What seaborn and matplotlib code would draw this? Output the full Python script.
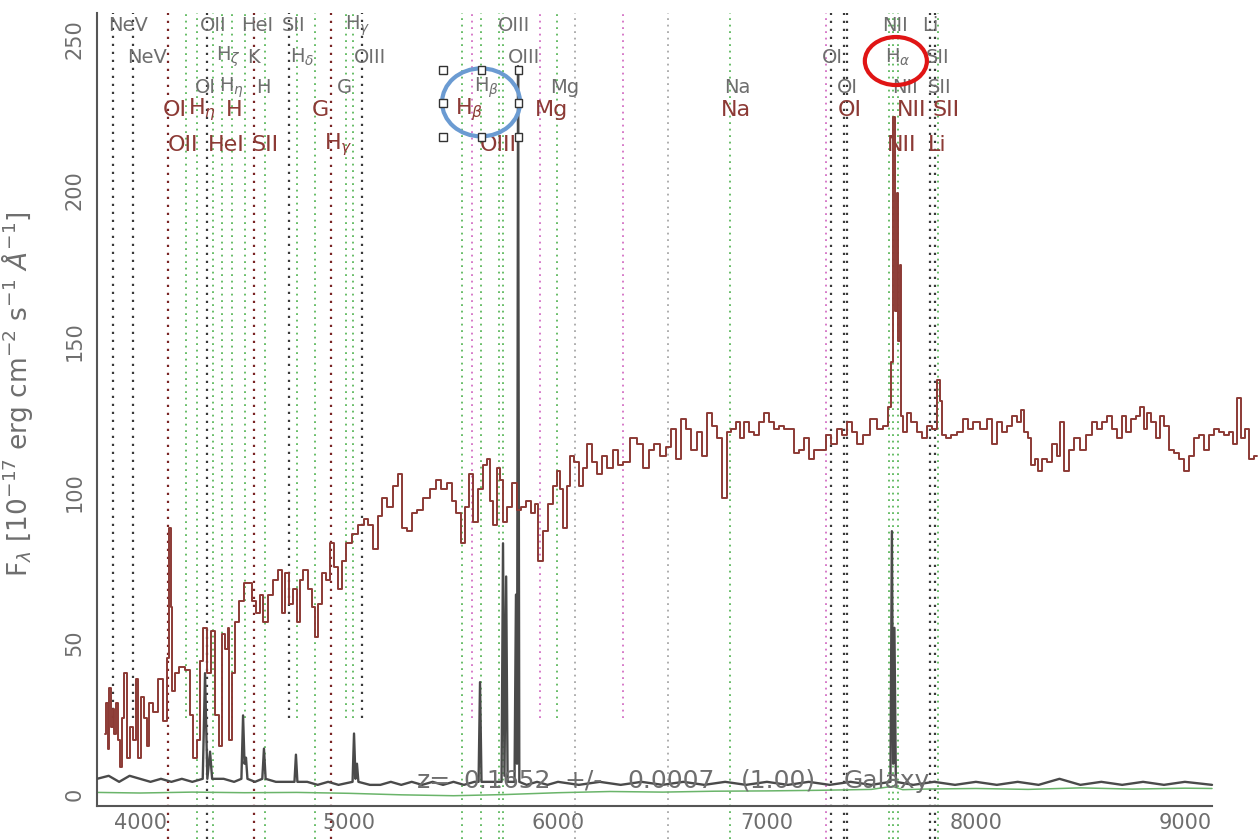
import matplotlib
matplotlib.use("Agg")
import matplotlib.pyplot as plt
from matplotlib.patches import Ellipse, Rectangle
from matplotlib.ticker import FixedLocator
import pandas as pd
import seaborn as sns

spec_wave = [3833, 3841, 3849, 3857, 3865, 3873, 3881, 3889, 3897, 3909,
             3920, 3928, 3944, 3960, 3976, 3984, 3992, 4016, 4024, 4040,
             4048, 4072, 4096, 4120, 4136, 4144, 4150, 4160, 4176, 4200,
             4232, 4247, 4263, 4279, 4295, 4311, 4327, 4351, 4367, 4388,
             4399, 4415, 4423, 4431, 4447, 4463, 4487, 4510, 4526, 4542,
             4566, 4582, 4598, 4622, 4646, 4670, 4686, 4702, 4726, 4742,
             4758, 4774, 4790, 4814, 4830, 4845, 4861, 4877, 4901, 4920,
             4936, 4957, 4973, 4997, 5029, 5061, 5085, 5101, 5129, 5149,
             5164, 5196, 5228, 5244, 5260, 5292, 5308, 5340, 5372, 5404,
             5427, 5451, 5483, 5499, 5523, 5547, 5563, 5587, 5603, 5627,
             5651, 5667, 5683, 5699, 5715, 5730, 5746, 5770, 5794, 5810,
             5834, 5858, 5882, 5898, 5914, 5938, 5962, 5986, 6002, 6018,
             6034, 6049, 6065, 6089, 6113, 6129, 6153, 6177, 6201, 6225,
             6249, 6273, 6297, 6329, 6361, 6392, 6424, 6448, 6472, 6504,
             6528, 6552, 6576, 6600, 6624, 6648, 6679, 6703, 6727, 6751,
             6775, 6799, 6815, 6839, 6863, 6879, 6903, 6927, 6951, 6975,
             6999, 7023, 7046, 7070, 7094, 7118, 7142, 7166, 7190, 7214,
             7238, 7270, 7294, 7318, 7350, 7373, 7397, 7421, 7445, 7477,
             7509, 7541, 7573, 7589, 7601, 7610, 7617, 7624, 7631, 7638,
             7645, 7660, 7676, 7700, 7732, 7756, 7780, 7804, 7820, 7836,
             7844, 7868, 7892, 7924, 7948, 7972, 8003, 8035, 8067, 8091,
             8115, 8139, 8163, 8187, 8211, 8223, 8242, 8258, 8274, 8290,
             8306, 8330, 8354, 8378, 8394, 8410, 8434, 8458, 8482, 8514,
             8538, 8569, 8593, 8617, 8641, 8665, 8689, 8705, 8729, 8753,
             8777, 8797, 8809, 8825, 8849, 8872, 8893, 8912, 8936, 8960,
             8984, 9008, 9032, 9056, 9080, 9104, 9128, 9152, 9176, 9199,
             9223, 9239, 9260, 9279, 9295, 9319, 9343]
spec_flux = [20, 30, 15, 35, 22, 28, 20, 30, 18, 9,
             25, 40, 12, 22, 18, 38, 12, 32, 25, 16,
             30, 27, 38, 24, 45, 88, 62, 34, 40, 42,
             41, 26, 12, 18, 44, 55, 40, 54, 26, 16,
             53, 48, 55, 18, 40, 57, 64, 70, 70, 64,
             60, 66, 57, 66, 71, 74, 60, 73, 63, 68,
             57, 71, 74, 68, 62, 52, 63, 73, 71, 83,
             75, 68, 77, 83, 86, 89, 91, 89, 81, 92,
             98, 95, 102, 106, 88, 87, 93, 94, 98, 101,
             104, 101, 103, 97, 93, 83, 95, 106, 90, 101,
             109, 111, 97, 89, 108, 104, 90, 95, 103, 94,
             95, 97, 93, 96, 77, 87, 96, 102, 107, 101,
             88, 102, 112, 110, 102, 108, 116, 110, 106, 112,
             108, 114, 109, 110, 118, 116, 108, 114, 116, 112,
             115, 121, 111, 124, 121, 114, 120, 112, 126, 122,
             118, 98, 120, 121, 123, 118, 123, 120, 119, 123,
             126, 123, 121, 122, 121, 121, 113, 114, 118, 111,
             114, 114, 119, 116, 121, 119, 123, 120, 116, 119,
             124, 121, 122, 128, 143, 224, 160, 199, 150, 175,
             125, 120, 126, 123, 120, 118, 122, 121, 137, 130,
             119, 118, 119, 120, 124, 121, 123, 121, 124, 116,
             123, 120, 122, 125, 123, 127, 120, 118, 109, 111,
             107, 111, 110, 116, 112, 123, 107, 114, 118, 114,
             119, 123, 121, 123, 125, 121, 118, 125, 120, 124,
             125, 128, 121, 126, 123, 118, 125, 122, 114, 113,
             111, 107, 112, 118, 119, 114, 119, 121, 120, 119,
             120, 116, 131, 118, 121, 111, 112]

# emission-line model (dark grey)
model_wave = [3794, 3850, 3900, 3950, 4000, 4050, 4100, 4150, 4200, 4250,
              4300, 4311, 4322, 4335, 4345,
              4400, 4450, 4485, 4493, 4500, 4507, 4514,
              4550, 4585, 4593, 4601,
              4650, 4700, 4739, 4746, 4753,
              4800, 4850, 4900, 4950,
              5017, 5024, 5031, 5038, 5045,
              5100, 5150, 5200, 5250, 5300, 5350, 5400, 5450, 5500, 5550, 5600,
              5620, 5627, 5634,
              5700,
              5730, 5737, 5744, 5752, 5759,
              5792, 5799, 5804, 5809, 5815,
              5850, 5900, 5950, 6000,
              6100, 6200, 6300, 6400, 6500, 6600, 6700, 6800, 6900, 7000,
              7100, 7200, 7300, 7400, 7500,
              7591, 7598, 7604, 7610, 7617,
              7700, 7800, 7900, 8000, 8100, 8200, 8300, 8400, 8500, 8600,
              8700, 8800, 8900, 9000,
              9130]
model_flux = [5, 6, 4, 6, 5, 4, 5, 4, 5, 4,
              5, 40, 5, 14, 5,
              5, 4, 5, 26, 10, 12, 5,
              4, 5, 15, 5,
              4, 4, 4, 13, 4,
              4, 3, 4, 3,
              4, 20, 5, 10, 4,
              3, 3, 4, 3, 4, 3, 4, 3, 4, 3, 4,
              4, 37, 4,
              4,
              4, 83, 6, 72, 4,
              4, 66, 10, 241, 4,
              3, 4, 3, 4,
              3, 4, 3, 4, 3, 4, 3, 4, 3, 4,
              3, 4, 3, 4, 3,
              4, 87, 10, 55, 4,
              3, 4, 3, 4, 3, 4, 3, 5, 3, 4,
              3, 4, 3, 4,
              3]

# sky / error curve (green)
sky_wave = [3794, 4000, 4250, 4500, 4750, 5000, 5250, 5500, 5750, 6000,
            6250, 6500, 6750, 7000, 7250, 7500, 7600, 7650, 7750, 8000,
            8250, 8500, 8750, 9000, 9130]
sky_flux = [0.5, 0.3, 0.6, 0.4, 0.5, 0.2, -0.3, -0.6, -0.2, 0.4,
            0.8, 0.6, 0.9, 1.0, 1.2, 1.5, 2.5, 1.4, 1.6, 1.8,
            1.5, 2.0, 1.6, 1.9, 1.8]

# dotted line markers: wavelength, colour group, lower end (flux units)
line_wave = [3871, 3967, 4134, 4220, 4273, 4321, 4349, 4392, 4440, 4502,
             4545, 4598, 4713, 4751, 4837, 4914, 4986, 5019, 5062, 5541,
             5589, 5632, 5718, 5737, 5914, 5995, 6081, 6311, 6526, 6823,
             7283, 7306, 7369, 7383, 7584, 7603, 7627, 7780, 7804, 7819]
line_kind = ["k", "k", "r", "g", "g", "k", "g", "g", "g", "g",
             "r", "g", "k", "g", "g", "r", "g", "g", "k", "g",
             "m", "g", "g", "g", "m", "g", "e", "m", "e", "g",
             "m", "k", "k", "k", "g", "g", "g", "k", "k", "g"]
line_low = [25, 25, -15, 25, -15, -15, -15, 25, 25, 25,
            -15, -15, 25, 25, -15, -15, 25, 25, 25, -15,
            25, -15, -15, -15, 25, 25, -15, 25, -15, -15,
            -15, -15, -15, -15, -15, -15, -15, -15, -15, -15]

# line identifications: grey set (rows 1-3) and red set (rows 4-5)
grey_text = ["NeV", "OII", "HeI", "SII", r"H$_\gamma$", "OIII", "NII", "Li",
             "NeV", r"H$_\zeta$", "K", r"H$_\delta$", "OIII", "OIII", "OI", r"H$_\alpha$", "SII",
             "OI", r"H$_\eta$", "H", "G", r"H$_\beta$", "Mg", "Na", "OI", "NII", "SII"]
grey_wave = [3943, 4349, 4560, 4737, 5043, 5790, 7613, 7780,
             4033, 4421, 4541, 4775, 5101, 5837, 7311, 7627, 7818,
             4311, 4440, 4589, 4976, 5656, 6034, 6857, 7383, 7660, 7828]
grey_row = [1, 1, 1, 1, 1, 1, 1, 1,
            2, 2, 2, 2, 2, 2, 2, 2, 2,
            3, 3, 3, 3, 3, 3, 3, 3, 3, 3]
red_text = ["OI", r"H$_\eta$", "H", "G", r"H$_\beta$", "Mg", "Na", "OI", "NII", "SII",
            "OII", "HeI", "SII", r"H$_\gamma$", "OIII", "NII", "Li"]
red_wave = [4167, 4297, 4450, 4861, 5574, 5971, 6852, 7397, 7694, 7857,
            4206, 4412, 4598, 4947, 5713, 7646, 7814]
red_row = [4, 4, 4, 4, 4, 4, 4, 4, 4, 4,
           5, 5, 5, 5, 5, 5, 5]
row_level = {1: 254.5, 2: 244, 3: 234, 4: 226.5, 5: 215}

# redshift caption, split into its words
z_words = ["z=", "0.1652", "+/-", "0.0007", "(1.00)", "Galaxy"]
z_word_wave = [5325, 5546, 6029, 6330, 6876, 7369]

kind_color = {"k": "#3a3a3a", "r": "#7a2525", "g": "#5cb85c", "m": "#d36fc4", "e": "#a8a8a8"}
red_col = "#8c3a35"
grey_col = "#6e6e6e"

sns.set_style("white")
plt.rcParams["font.family"] = ["DejaVu Sans"]
plt.rcParams["mathtext.fontset"] = "dejavusans"

fig = plt.figure(figsize=(12.58, 8.4), dpi=100)
ax = fig.add_axes([97 / 1258, 34 / 840, 1161 / 1258, 793 / 840])
x_lo, x_hi, x_end = 3794, 9350, 9130
y_lo, y_hi = -4, 258.6

# vertical dotted markers
lines = pd.DataFrame({"wave": line_wave, "kind": line_kind, "low": line_low})
for kind, grp in lines.groupby("kind"):
    lw = 1.6 if kind in ("k", "r") else 1.3
    ax.vlines(grp["wave"], grp["low"], y_hi, colors=kind_color[kind],
              linestyles=(0, (1, 2.6)), linewidth=lw, clip_on=False, zorder=1)

sky = pd.DataFrame({"wave": sky_wave, "flux": sky_flux})
model = pd.DataFrame({"wave": model_wave, "flux": model_flux})
spec = pd.DataFrame({"wave": spec_wave, "flux": spec_flux})
sns.lineplot(data=sky, x="wave", y="flux", color="#6ab46a", linewidth=1.1,
             estimator=None, sort=False, ax=ax, zorder=2)
sns.lineplot(data=model, x="wave", y="flux", color="#4a4a4a", linewidth=1.7,
             estimator=None, sort=False, ax=ax, zorder=3)
sns.lineplot(data=spec, x="wave", y="flux", color=red_col, linewidth=1.4,
             estimator=None, sort=False, drawstyle="steps-mid", ax=ax, zorder=4)

for t, w, r in zip(grey_text, grey_wave, grey_row):
    ax.text(w, row_level[r], t, color=grey_col, fontsize=14, ha="center", va="center", zorder=5)
for t, w, r in zip(red_text, red_wave, red_row):
    ax.text(w, row_level[r], t, color=red_col, fontsize=16, ha="center", va="center", zorder=5)

for t, w in zip(z_words, z_word_wave):
    ax.text(w, 2, t, color=grey_col, fontsize=18, ha="left", va="baseline", zorder=6)

# markup shapes drawn over the scan
ax.add_patch(Ellipse((5632, 229), 373, 22.5, fill=False, edgecolor="#6b9bd2",
                     linewidth=3, zorder=7, clip_on=False))
for hx in (5450, 5632, 5809):
    for hy in (239.7, 228.8, 217.5):
        if hx == 5632 and hy == 228.8:
            continue
        ax.add_patch(Rectangle((hx - 17, hy - 1.3), 34, 2.6, facecolor="white",
                               edgecolor="#333333", linewidth=1, zorder=8, clip_on=False))
ax.add_patch(Ellipse((7617, 242.7), 297, 15.9, fill=False, edgecolor="#e01515",
                     linewidth=3, zorder=7, clip_on=False))

ax.set_xlim(x_lo, x_hi)
ax.set_ylim(y_lo, y_hi)
ax.xaxis.set_major_locator(FixedLocator([4000, 5000, 6000, 7000, 8000, 9000]))
ax.xaxis.set_minor_locator(FixedLocator(list(range(3800, 9130, 200))))
ax.yaxis.set_major_locator(FixedLocator([0, 50, 100, 150, 200, 250]))
ax.yaxis.set_minor_locator(FixedLocator(list(range(0, 251, 10))))
ax.tick_params(which="major", direction="in", length=12, width=1.2, color="#555555",
               labelcolor=grey_col, labelsize=15)
ax.tick_params(which="minor", direction="in", length=6, width=1.0, color="#555555")
ax.tick_params(axis="x", which="major", pad=5)
ax.tick_params(axis="y", which="major", pad=9)
for lab in ax.get_yticklabels():
    lab.set_rotation(90)
    lab.set_va("center")
for side in ("top", "right"):
    ax.spines[side].set_visible(False)
for side in ("left", "bottom"):
    ax.spines[side].set_color("#555555")
    ax.spines[side].set_linewidth(1.5)
ax.spines["bottom"].set_bounds(x_lo, x_end)

ax.set_xlabel("")
ax.set_ylabel(r"F$_\lambda$ [10$^{-17}$ erg cm$^{-2}$ s$^{-1}$ $\AA^{-1}$]",
              color=grey_col, fontsize=19)
ax.yaxis.set_label_coords(-0.053, 0.52)

fig.savefig("out.png", dpi=100, facecolor="white")
